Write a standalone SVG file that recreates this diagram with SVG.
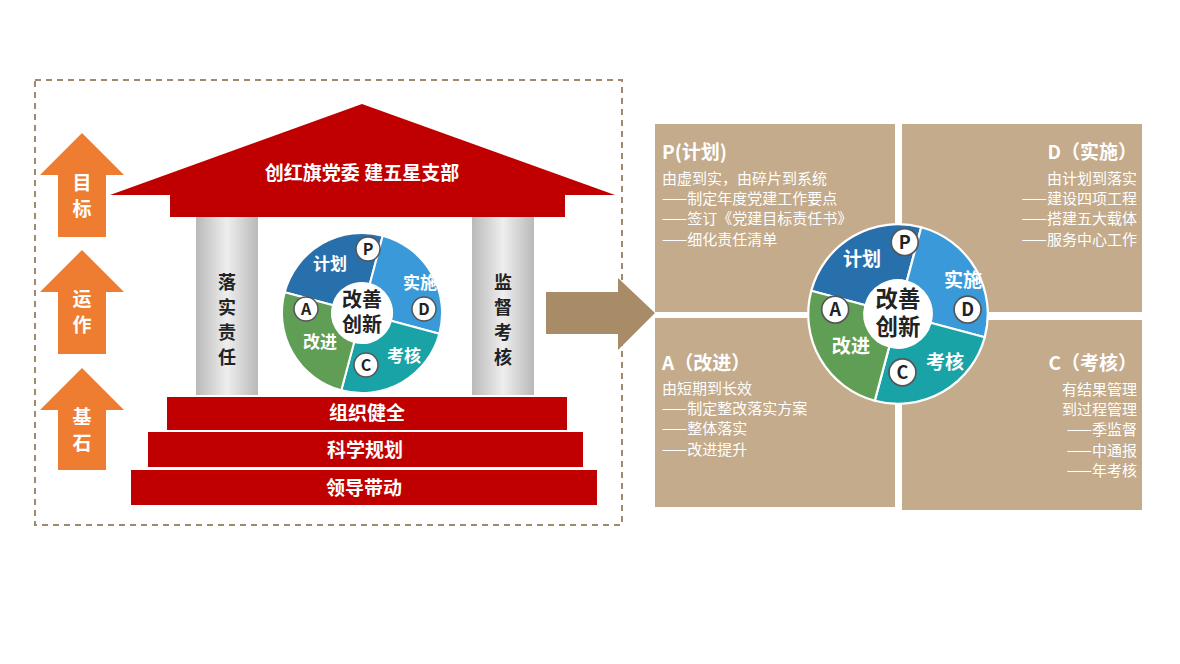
<svg xmlns="http://www.w3.org/2000/svg" width="1180" height="664" viewBox="0 0 1180 664">
<style>
text{font-family:"Noto Sans CJK SC","Liberation Sans",sans-serif}
.w{fill:#fff;font-weight:bold}
.bx{fill:#c4ab8b}
.t{fill:#fff;font-size:15px}
.tb{fill:#fff;font-size:19px;font-weight:bold}
.red{fill:#c00000}
.org{fill:#ee7d31}
.lc{fill:#222;font-weight:bold;font-size:20px}
.pc{fill:#222;font-weight:bold;font-size:18px}
</style>
<defs>
<linearGradient id="pil" x1="0" x2="1"><stop offset="0" stop-color="#b9b9b9"/><stop offset="0.5" stop-color="#eeeeee"/><stop offset="1" stop-color="#b9b9b9"/></linearGradient>
<symbol id="cyc" viewBox="-82 -82 164 164" overflow="visible">
<path d="M-77.3,-20.7 A80 80 0 0 1 20.7,-77.3 L7.8,-29 A30 30 0 0 0 -29,-7.8Z" fill="#2870ab" stroke="#fff" stroke-width="2"/>
<path d="M20.7,-77.3 A80 80 0 0 1 77.3,20.7 L29,7.8 A30 30 0 0 0 7.8,-29Z" fill="#3a9ad9" stroke="#fff" stroke-width="2"/>
<path d="M77.3,20.7 A80 80 0 0 1 -20.7,77.3 L-7.8,29 A30 30 0 0 0 29,7.8Z" fill="#1aa3a6" stroke="#fff" stroke-width="2"/>
<path d="M-20.7,77.3 A80 80 0 0 1 -77.3,-20.7 L-29,-7.8 A30 30 0 0 0 -7.8,29Z" fill="#5f9e54" stroke="#fff" stroke-width="2"/>
<circle r="30" fill="#fff"/>
<g fill="#fff" stroke="#555" stroke-width="1.5"><circle cx="6" cy="-64" r="12"/><circle cx="62" cy="-4" r="12"/><circle cx="4" cy="52" r="12"/><circle cx="-56" cy="-4" r="12"/></g>
<g font-weight="bold" font-size="16" fill="#222" text-anchor="middle" font-family="Liberation Sans,sans-serif"><text x="6" y="-58">P</text><text x="62" y="2">D</text><text x="4" y="58">C</text><text x="-56" y="2">A</text></g>
<g class="w" font-size="17" text-anchor="middle"><text x="-32" y="-43">计划</text><text x="58" y="-24">实施</text><text x="42" y="49">考核</text><text x="-42" y="35">改进</text></g>
<g class="lc" text-anchor="middle"><text y="-6">改善</text><text y="19">创新</text></g>
</symbol>
</defs>
<rect width="1180" height="664" fill="#fff"/>
<rect x="35" y="80" width="587" height="445" fill="none" stroke="#a08a6e" stroke-width="2" stroke-dasharray="6 5"/>
<g id="arrow-goal"><polygon class="org" points="82,133 124,175 106,175 106,237 58,237 58,175 40,175"/><text class="w" font-size="19" x="82" y="190" text-anchor="middle">目</text><text class="w" font-size="19" x="82" y="216" text-anchor="middle">标</text></g>
<g id="arrow-run"><polygon class="org" points="82,250 124,292 106,292 106,354 58,354 58,292 40,292"/><text class="w" font-size="19" x="82" y="306" text-anchor="middle">运</text><text class="w" font-size="19" x="82" y="332" text-anchor="middle">作</text></g>
<g id="arrow-base"><polygon class="org" points="82,368 124,410 106,410 106,470 58,470 58,410 40,410"/><text class="w" font-size="19" x="82" y="424" text-anchor="middle">基</text><text class="w" font-size="19" x="82" y="450" text-anchor="middle">石</text></g>
<g id="roof"><polygon class="red" points="110,195 362,104 615,195"/><rect class="red" x="170" y="195" width="395" height="22"/><text class="w" font-size="19" x="362" y="180" text-anchor="middle">创红旗党委  建五星支部</text></g>
<g id="pillar-left"><rect x="196" y="217" width="62" height="178" fill="url(#pil)"/><g class="pc" text-anchor="middle"><text x="227" y="289">落</text><text x="227" y="314">实</text><text x="227" y="339">责</text><text x="227" y="364">任</text></g></g>
<g id="pillar-right"><rect x="472" y="217" width="62" height="178" fill="url(#pil)"/><g class="pc" text-anchor="middle"><text x="503" y="289">监</text><text x="503" y="314">督</text><text x="503" y="339">考</text><text x="503" y="364">核</text></g></g>
<g id="cycle-left"><use href="#cyc" x="280" y="231" width="164" height="164"/></g>
<g id="steps">
<rect class="red" x="167" y="397" width="400" height="33"/><text class="w" font-size="19" x="367" y="420" text-anchor="middle">组织健全</text>
<rect class="red" x="148" y="432" width="435" height="35"/><text class="w" font-size="19" x="365" y="457" text-anchor="middle">科学规划</text>
<rect class="red" x="131" y="470" width="466" height="35"/><text class="w" font-size="19" x="364" y="495" text-anchor="middle">领导带动</text>
</g>
<g id="connectors"><polygon fill="#a88c68" points="546,292 618,292 618,278 655,313 618,350 618,334 546,334"/></g>
<g id="box-p"><rect class="bx" x="655" y="124" width="240" height="188"/><text class="tb" x="662" y="159">P(计划)</text><text class="t" x="662" y="184">由虚到实，由碎片到系统</text><text class="t" x="662" y="204">——制定年度党建工作要点</text><text class="t" x="662" y="224">——签订《党建目标责任书》</text><text class="t" x="662" y="245">——细化责任清单</text></g>
<g id="box-d"><rect class="bx" x="902" y="124" width="240" height="188"/><g text-anchor="end"><text class="tb" x="1137" y="159">D（实施）</text><text class="t" x="1137" y="184">由计划到落实</text><text class="t" x="1137" y="204">——建设四项工程</text><text class="t" x="1137" y="224">——搭建五大载体</text><text class="t" x="1137" y="245">——服务中心工作</text></g></g>
<g id="box-a"><rect class="bx" x="655" y="318" width="240" height="189"/><text class="tb" x="662" y="370">A（改进）</text><text class="t" x="662" y="394">由短期到长效</text><text class="t" x="662" y="414">——制定整改落实方案</text><text class="t" x="662" y="434">——整体落实</text><text class="t" x="662" y="455">——改进提升</text></g>
<g id="box-c"><rect class="bx" x="902" y="320" width="240" height="190"/><g text-anchor="end"><text class="tb" x="1137" y="370">C（考核）</text><text class="t" x="1137" y="395">有结果管理</text><text class="t" x="1137" y="415">到过程管理</text><text class="t" x="1137" y="435">——季监督</text><text class="t" x="1137" y="456">——中通报</text><text class="t" x="1137" y="476">——年考核</text></g></g>
<g id="cycle-right"><use href="#cyc" x="806" y="222" width="184" height="184"/></g>
</svg>
